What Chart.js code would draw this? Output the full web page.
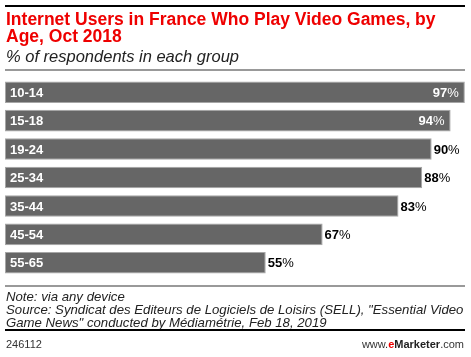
<!DOCTYPE html>
<html>
<head>
<meta charset="utf-8">
<script src="https://cdn.jsdelivr.net/npm/chart.js@4"></script>
<style>
  html, body { margin:0; padding:0; background:#fff; width:471px; height:357px; overflow:hidden; }
  #wrap { position:relative; width:471px; height:357px; }
  canvas { position:absolute; left:0; top:0; }
  .t { position:absolute; white-space:nowrap; font-family:"Liberation Sans", Arial, sans-serif; }
  .rule { position:absolute; left:5px; width:460px; }
</style>
</head>
<body>
<div id="wrap">
  <canvas id="c" width="471" height="357"></canvas>
  <div class="rule" style="top:5px;height:2px;background:#000;"></div>
  <div class="t" style="left:6px;top:11px;font-size:17.5px;line-height:17px;font-weight:bold;color:#ee0000;">Internet Users in France Who Play Video Games, by<br>Age, Oct 2018</div>
  <div class="t" style="left:6px;top:48px;font-size:16.5px;line-height:16px;font-style:italic;color:#222;">% of respondents in each group</div>
  <div class="rule" style="top:69px;height:2px;background:#999;"></div>
  <div class="rule" style="top:285px;height:2px;background:#999;"></div>
  <div class="t" style="left:6px;top:290px;font-size:13.2px;line-height:13px;font-style:italic;color:#222;">Note: via any device<br>Source: Syndicat des Editeurs de Logiciels de Loisirs (SELL), "Essential Video<br>Game News" conducted by Médiamétrie, Feb 18, 2019</div>
  <div class="rule" style="top:329px;height:2px;background:#000;"></div>
  <div class="t" style="left:6px;top:339px;font-size:11px;line-height:11px;color:#333;">246112</div>
  <div class="t" style="right:7px;top:339px;font-size:11px;line-height:11px;color:#333;">www.<b style="color:#ee0000;">e</b><b style="color:#222;">Marketer</b>.com</div>
</div>
<script>
const categories = ["10-14", "15-18", "19-24", "25-34", "35-44", "45-54", "55-65"];
const values = [97, 94, 90, 88, 83, 67, 55];
const insideThreshold = 94;

const labelPlugin = {
  id: 'barLabels',
  afterDatasetsDraw(chart) {
    const ctx = chart.ctx;
    const meta = chart.getDatasetMeta(0);
    const bold = 'bold 13px "Liberation Sans", Arial, sans-serif';
    const reg = '13px "Liberation Sans", Arial, sans-serif';
    ctx.save();
    ctx.textBaseline = 'middle';
    meta.data.forEach((bar, i) => {
      const y = bar.y + 1;
      ctx.font = bold;
      ctx.fillStyle = '#ffffff';
      ctx.textAlign = 'left';
      ctx.fillText(categories[i], bar.base + 5, y);
      const num = String(values[i]);
      ctx.font = bold;
      const wNum = ctx.measureText(num).width;
      ctx.font = reg;
      const wPct = ctx.measureText('%').width;
      let x;
      if (values[i] >= insideThreshold) {
        ctx.fillStyle = '#ffffff';
        x = bar.x - 6 - wNum - wPct;
      } else {
        ctx.fillStyle = '#000000';
        x = bar.x + 2;
      }
      ctx.font = bold;
      ctx.fillText(num, x, y);
      ctx.font = reg;
      ctx.fillText('%', x + wNum, y);
    });
    ctx.restore();
  }
};

new Chart(document.getElementById('c'), {
  type: 'bar',
  data: {
    labels: categories,
    datasets: [{
      data: values,
      backgroundColor: '#666666',
      borderColor: '#a6a6a6',
      borderWidth: 1,
      borderSkipped: false,
      categoryPercentage: 0.76,
      barPercentage: 1.0
    }]
  },
  options: {
    indexAxis: 'y',
    responsive: false,
    animation: false,
    layout: { padding: { left: 5, right: 0, top: 78, bottom: 80 } },
    plugins: { legend: { display: false }, tooltip: { enabled: false } },
    scales: {
      x: { display: false, min: 0, max: 98.3 },
      y: { display: false }
    }
  },
  plugins: [labelPlugin]
});
</script>
</body>
</html>
